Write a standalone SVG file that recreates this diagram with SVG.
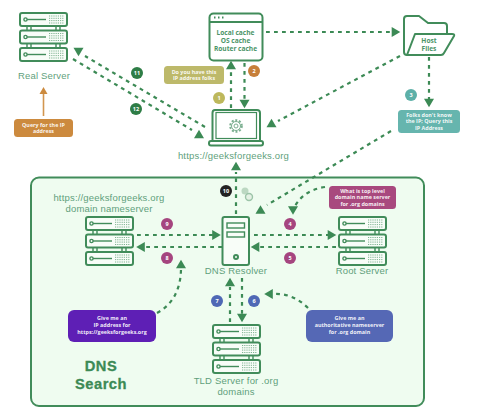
<svg xmlns="http://www.w3.org/2000/svg" width="482" height="410" viewBox="0 0 482 410">
<style>
.ln{fill:none;stroke:#418c5a;stroke-width:2;stroke-linejoin:round}
.thin{fill:none;stroke:#418c5a;stroke-width:1.4}
.grid{fill:none;stroke:#7fb391;stroke-width:1;stroke-dasharray:1.2 1}
.dash{fill:none;stroke:#3c8a55;stroke-width:2.2;stroke-dasharray:3.800 4.200}
.tri{fill:#3c8a55}
.lab{font-family:"Liberation Sans",Arial,sans-serif;font-size:9.5px;letter-spacing:.18px;fill:#5f9f7c;text-anchor:middle}
.inner{font-family:"Open Sans","Liberation Sans",sans-serif;font-size:6.6px;font-weight:700;fill:#4c9468;text-anchor:middle}
.note{font-family:"Open Sans","Liberation Sans",sans-serif;font-size:5.4px;font-weight:700;fill:#fff;text-anchor:middle;fill-opacity:.92}
.num{font-family:"Open Sans","Liberation Sans",sans-serif;font-size:5.5px;font-weight:700;fill:#fff;text-anchor:middle}
.big{font-family:"Liberation Sans",Arial,sans-serif;font-size:14.700px;letter-spacing:.5px;font-weight:700;fill:#3c8a55;stroke:#3c8a55;stroke-width:.3px;text-anchor:middle}
</style>
<defs>
<polygon id="tri" class="tri" points="-5,4.300 5,4.300 0,-4.300"/>
<g id="unit">
<rect class="ln" x="1" y="1" width="47" height="13" rx="2" style="fill:#f8fdf8"/>
<circle class="thin" cx="6.500" cy="7.500" r="1.600"/>
<path class="thin" d="M8 7.500H27"/>
<path class="grid" d="M30 4H45M30 6.300H45M30 8.600H45M30 11H45"/>
</g>
<g id="server">
<path class="thin" d="M8 14V18M12 14V18M37 14V18M41 14V18M8 32V35M12 32V35M37 32V35M41 32V35"/>
<use href="#unit"/>
<use href="#unit" y="17.500"/>
<use href="#unit" y="35"/>
</g>
</defs>

<rect id="bg" width="482" height="410" fill="#fff"/>
<rect id="panel" x="31" y="177.500" width="393" height="228.500" rx="8" fill="#effcf0" stroke="#418c5a" stroke-width="2"/>

<g id="connectors">
<path class="dash" d="M205 127L85 56"/><use href="#tri" transform="translate(78.500 52) rotate(180)"/>
<path class="dash" d="M73 59L192 130"/><use href="#tri" transform="translate(199 134)"/>
<path class="dash" d="M231 108V70"/><use href="#tri" transform="translate(231 65)"/>
<path class="dash" d="M244.500 63V100"/><use href="#tri" transform="translate(244.500 104) rotate(180)"/>
<path class="dash" d="M266 32H392"/><use href="#tri" transform="translate(396 32) rotate(90)"/>
<path class="dash" d="M400 56L278 121"/><use href="#tri" transform="translate(271.500 123)"/>
<path class="dash" d="M429 57V100"/><use href="#tri" transform="translate(429 103) rotate(180)"/>
<path class="dash" d="M391 131L267 205"/><use href="#tri" transform="translate(260.500 209.500)"/>
<path class="dash" d="M325 187C312 189 302 194 295 206"/><use href="#tri" transform="translate(293 210.500) rotate(180)"/>
<path class="dash" d="M236 214V172"/><use href="#tri" transform="translate(236 166)"/>
<path class="dash" d="M254 235H328"/><use href="#tri" transform="translate(332 235) rotate(90)"/>
<path class="dash" d="M336 247H260"/><use href="#tri" transform="translate(255 247) rotate(-90)"/>
<path class="dash" d="M137 235H213"/><use href="#tri" transform="translate(216.500 235) rotate(90)"/>
<path class="dash" d="M222 247H145"/><use href="#tri" transform="translate(140.500 247) rotate(-90)"/>
<path class="dash" d="M157 313C172 305 181 290 181 268"/><use href="#tri" transform="translate(181 264)"/>
<path class="dash" d="M230 322V287"/><use href="#tri" transform="translate(230 282)"/>
<path class="dash" d="M242 278V314"/><use href="#tri" transform="translate(242 318) rotate(180)"/>
<path class="dash" d="M308 308C298 298 286 293 273 294"/><use href="#tri" transform="translate(268.500 294) rotate(-90)"/>
<path d="M43.500 116V92" fill="none" stroke="#d29650" stroke-width="1.600"/><polygon points="39.500,94 47.500,94 43.500,87" fill="#cc8a3e"/>
</g>

<g id="real-server"><use href="#server" x="19" y="12"/><text class="lab" x="44" y="79">Real Server</text></g>
<g id="query-note"><rect x="14" y="119" width="59" height="18" rx="3.500" fill="#cc8a3e"/><text class="note" x="43.500" y="126.500">Query for the IP</text><text class="note" x="43.500" y="133">address</text></g>

<g id="cache">
<rect class="ln" x="209.500" y="13.500" width="53" height="47" rx="4" style="fill:#fff"/>
<path class="ln" d="M209.500 22H262.500"/>
<path d="M214 17.500h1.500M218 17.500h1.500M222 17.500h1.500" stroke="#418c5a" stroke-width="1.800"/>
<text class="inner" x="235.500" y="35">Local cache</text><text class="inner" x="235.500" y="42.500">OS cache</text><text class="inner" x="235.500" y="50.500">Router cache</text>
</g>

<g id="host-files">
<path class="ln" d="M413 55H407Q404 55 404 52V19Q404 16 407 16H419L428 23H444Q447 23 447 26V33"/>
<path class="ln" d="M415 34H452Q455 34 454 36L444 53Q443 55 441 55H407Z" style="fill:#fff"/>
<text class="inner" x="429" y="43">Host</text><text class="inner" x="429" y="50.500">Files</text>
</g>

<g id="laptop">
<path class="ln" d="M212.500 141V113Q212.500 110 215 110H257Q260 110 260 113V141"/>
<rect x="216" y="112.500" width="40.500" height="26" fill="none" stroke="#418c5a" stroke-width="1.200"/>
<rect class="ln" x="209" y="141" width="54" height="4.500" rx="2" style="fill:#fff"/>
<circle cx="236" cy="126" r="5.800" fill="none" stroke="#7aae8f" stroke-width="2" stroke-dasharray="2 1.700"/>
<circle cx="236" cy="126" r="4.500" fill="none" stroke="#7aae8f" stroke-width="1"/>
<circle cx="236" cy="126" r="2" fill="none" stroke="#7aae8f" stroke-width="1"/>
<text class="lab" x="233.500" y="159">https://geeksforgeeks.org</text>
</g>

<g id="notes-top">
<g id="note-1"><rect x="164" y="66" width="60" height="18" rx="3.500" fill="#bdb96a"/><text class="note" x="194" y="73.500">Do you have this</text><text class="note" x="194" y="80">IP address folks</text></g>
<g id="note-3"><rect x="398" y="110" width="62" height="23" rx="3.500" fill="#66b5ae"/><text class="note" x="429" y="116.500">Folks don't know</text><text class="note" x="429" y="123">the IP; Query this</text><text class="note" x="429" y="130">IP Address</text></g>
</g>

<g id="decor">
<circle cx="245" cy="191" r="3.500" fill="#bcd8c2"/>
<circle cx="249" cy="197" r="3.500" fill="#e4f1e4" stroke="#9cc4a8" stroke-width="1.400"/>
</g>

<g id="nameserver"><use href="#server" x="85" y="216"/><text class="lab" x="109" y="200.500">https://geeksforgeeks.org</text><text class="lab" x="109" y="211.500">domain nameserver</text></g>

<g id="dns-resolver">
<rect class="ln" x="222.500" y="217" width="26.500" height="48" rx="2" style="fill:#f8fdf8"/>
<rect class="thin" x="227" y="223" width="17.500" height="5"/>
<rect class="thin" x="227" y="232" width="17.500" height="5"/>
<circle class="ln" cx="236" cy="257" r="2"/>
<text class="lab" x="236" y="274">DNS Resolver</text>
</g>

<g id="root-server"><use href="#server" x="338" y="216"/><text class="lab" x="362" y="274">Root Server</text></g>
<g id="tld-server"><use href="#server" x="212" y="324"/><text class="lab" x="236" y="384">TLD Server for .org</text><text class="lab" x="236" y="395">domains</text></g>

<g id="note-root"><rect x="329" y="186" width="67" height="23" rx="3.500" fill="#a8497e"/><text class="note" x="362.500" y="192.500">What is top level</text><text class="note" x="362.500" y="199">domain name server</text><text class="note" x="362.500" y="206">for .org domains</text></g>
<g id="note-purple"><rect x="68" y="310" width="88" height="32" rx="6" fill="#5e1fb5"/><text class="note" x="112" y="320">Give me an</text><text class="note" x="112" y="327">IP address for</text><text class="note" x="112" y="334">https://geeksforgeeks.org</text></g>
<g id="note-blue"><rect x="306" y="310" width="87" height="32" rx="6" fill="#5568b5"/><text class="note" x="349.500" y="320">Give me an</text><text class="note" x="349.500" y="327">authoritative nameserver</text><text class="note" x="349.500" y="334">for .org domain</text></g>

<g id="title"><text class="big" x="101" y="371">DNS</text><text class="big" x="101" y="388.500">Search</text></g>

<g id="badges">
<g id="b11"><circle cx="137" cy="73" r="6" fill="#2e7d46"/><text class="num" x="137" y="75">11</text></g>
<g id="b12"><circle cx="136" cy="109" r="6" fill="#2e7d46"/><text class="num" x="136" y="111">12</text></g>
<g id="b1"><circle cx="219" cy="98" r="6" fill="#bdb85c"/><text class="num" x="219" y="100">1</text></g>
<g id="b2"><circle cx="254" cy="71" r="6" fill="#c77f3a"/><text class="num" x="254" y="73">2</text></g>
<g id="b3"><circle cx="411" cy="95" r="6" fill="#5db0a8"/><text class="num" x="411" y="97">3</text></g>
<g id="b10"><circle cx="226" cy="191" r="6" fill="#222"/><text class="num" x="226" y="193">10</text></g>
<g id="b9"><circle cx="167" cy="224" r="6" fill="#a5457f"/><text class="num" x="167" y="226">9</text></g>
<g id="b8"><circle cx="167" cy="258" r="6" fill="#a5457f"/><text class="num" x="167" y="260">8</text></g>
<g id="b4"><circle cx="290" cy="224" r="6" fill="#a5457f"/><text class="num" x="290" y="226">4</text></g>
<g id="b5"><circle cx="290" cy="258" r="6" fill="#a5457f"/><text class="num" x="290" y="260">5</text></g>
<g id="b7"><circle cx="217" cy="301" r="6" fill="#4f68b5"/><text class="num" x="217" y="303">7</text></g>
<g id="b6"><circle cx="254" cy="301" r="6" fill="#4f68b5"/><text class="num" x="254" y="303">6</text></g>
</g>
</svg>
